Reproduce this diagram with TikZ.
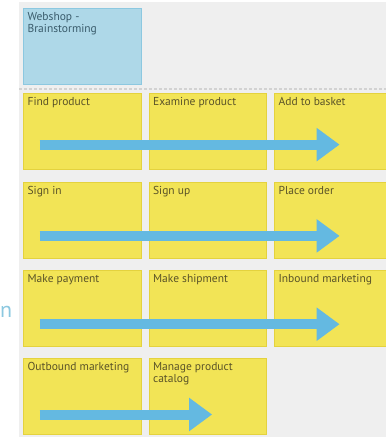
\documentclass[tikz,border=0pt]{standalone}
\usepackage{fontspec}
\setmainfont{PT Sans}
\usetikzlibrary{arrows.meta,positioning}
\definecolor{notefill}{HTML}{F2E456}
\definecolor{noteline}{HTML}{E4D23E}
\definecolor{notetext}{HTML}{5A5328}
\definecolor{ideafill}{HTML}{AED8E8}
\definecolor{idealine}{HTML}{8CC8E0}
\definecolor{ideatext}{HTML}{3A5C6C}
\definecolor{flowblue}{HTML}{64B9E1}
\definecolor{panelgrey}{HTML}{EFEFEF}
\definecolor{dashgrey}{HTML}{D2D2D2}

\begin{document}
\begin{tikzpicture}[x=1pt,y=-1pt,
   font=\fontsize{11.5}{11.5}\selectfont,
   every matrix/.style={ampersand replacement=\&,column sep=7.2pt,row sep=11.5pt,inner sep=0pt},
   note/.style={draw=noteline,fill=notefill,text=notetext,line width=0.8pt,inner sep=4pt,outer sep=0pt},
   idea/.style={note,draw=idealine,fill=ideafill,text=ideatext},
   flow/.style={-{Triangle[length=23pt,width=32pt]},line width=10pt,draw=flowblue},
   divider/.style={draw=dashgrey,line width=1.5pt,dash pattern=on 3pt off 2pt}]
\useasboundingbox (0,0) rectangle (386,437);
\clip (0,0) rectangle (386,437);
\fill[panelgrey] (19,2) rectangle (386,437);
\node[text=idealine,font=\fontsize{22}{22}\selectfont,anchor=base west,inner sep=0pt] (cut) at (0,317) {n};
\matrix[anchor=north west] (notes) at (23,93) {
\node[note] (find) {\parbox[t][68pt][t]{109.5pt}{\raggedright Find product}};\&\node[note] (examine) {\parbox[t][68pt][t]{109.5pt}{\raggedright Examine product}};\&\node[note] (basket) {\parbox[t][68pt][t]{109.5pt}{\raggedright Add to basket}};\\
\node[note] (signin) {\parbox[t][68pt][t]{109.5pt}{\raggedright Sign in}};\&\node[note] (signup) {\parbox[t][68pt][t]{109.5pt}{\raggedright Sign up}};\&\node[note] (order) {\parbox[t][68pt][t]{109.5pt}{\raggedright Place order}};\\
\node[note] (payment) {\parbox[t][68pt][t]{109.5pt}{\raggedright Make payment}};\&\node[note] (shipment) {\parbox[t][68pt][t]{109.5pt}{\raggedright Make shipment}};\&\node[note] (inbound) {\parbox[t][68pt][t]{109.5pt}{\raggedright Inbound marketing}};\\
\node[note] (outbound) {\parbox[t][68pt][t]{109.5pt}{\raggedright Outbound marketing}};\&\node[note] (catalog) {\parbox[t][68pt][t]{109.5pt}{\raggedright Manage product\\catalog}};\&\\
};
\node[idea,above=9pt of find] (title) {\parbox[t][68pt][t]{109.5pt}{\raggedright Webshop -\\Brainstorming}};
\draw[divider] (19,89) -- (386,89);
\coordinate (from1) at ([shift={(16pt,-51pt)}]find.north west);
\coordinate (to1) at ([shift={(65pt,-51pt)}]basket.north west);
\coordinate (from2) at ([shift={(16pt,-54pt)}]signin.north west);
\coordinate (to2) at ([shift={(65pt,-54pt)}]order.north west);
\coordinate (from3) at ([shift={(16pt,-54pt)}]payment.north west);
\coordinate (to3) at ([shift={(65pt,-54pt)}]inbound.north west);
\coordinate (from4) at ([shift={(16pt,-56pt)}]outbound.north west);
\coordinate (to4) at ([shift={(63pt,-56pt)}]catalog.north west);
\draw[flow] (from1) -- (to1);
\draw[flow] (from2) -- (to2);
\draw[flow] (from3) -- (to3);
\draw[flow] (from4) -- (to4);
\end{tikzpicture}
\end{document}
